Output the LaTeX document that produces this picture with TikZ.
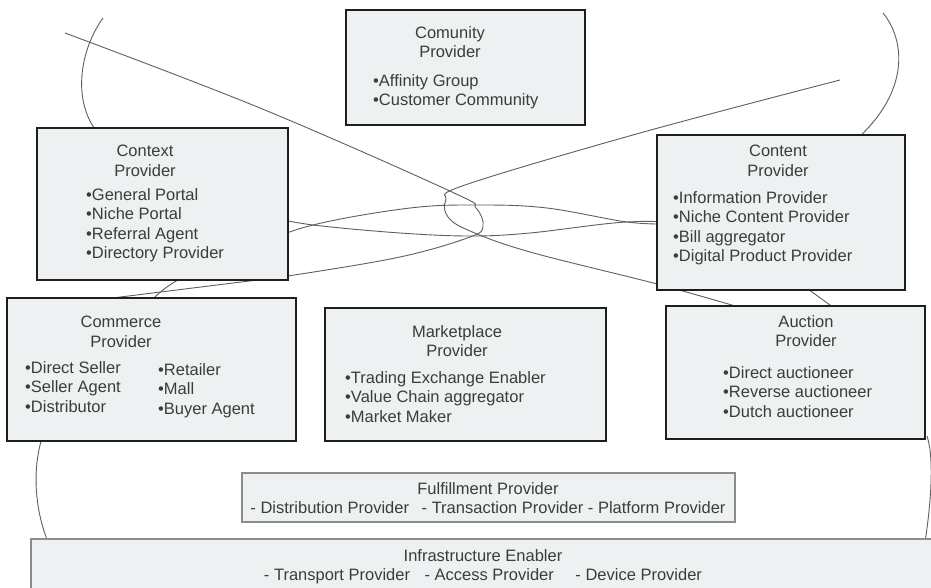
\documentclass[tikz,border=0pt]{standalone}
\usepackage{fontspec}
\setmainfont{Liberation Sans}
\usetikzlibrary{positioning,backgrounds}
\definecolor{boxfill}{RGB}{238,241,242}
\definecolor{boxline}{RGB}{30,30,30}
\definecolor{thinline}{RGB}{140,140,140}
\definecolor{textgray}{RGB}{60,60,60}
\definecolor{curvegray}{RGB}{95,95,95}

\begin{document}
\begin{tikzpicture}[
  x=1pt, y=-1pt,
  every node/.style={
    inner sep=0pt,
    text=textgray,
    font=\fontsize{16.5}{19.5}\selectfont
  },
  provider/.style={rectangle, draw=boxline, line width=2.4pt, fill=boxfill},
  layerbox/.style={rectangle, draw=thinline, line width=1.1pt, fill=boxfill},
  title/.style={align=center, anchor=north},
  items/.style={align=left, anchor=north west},
  curve/.style={draw=curvegray, line width=0.9pt}
]

\useasboundingbox (0,0) rectangle (931,588);

\node[provider, minimum width=239pt, minimum height=115pt] (comunity) at (465.5,67.5) {};
\node[provider, minimum width=251pt, minimum height=152pt] (context)  at (162.5,204)  {};
\node[provider, minimum width=248pt, minimum height=155pt] (content)  at (781,212.5)  {};
\node[provider, minimum width=289pt, minimum height=143pt] (commerce) at (151.5,369.5) {};
\node[provider, minimum width=281pt, minimum height=133pt] (market)   at (465.5,374.5) {};
\node[provider, minimum width=259pt, minimum height=133pt] (auction)  at (795.5,372.5) {};
\node[layerbox, minimum width=493pt, minimum height=49pt]  (fulfil)   at (488.5,497.5) {};
\node[layerbox, minimum width=914pt, minimum height=61pt]  (infra)    at (488,569.5)   {};

\node[title] (comunitytitle) at (450,26)  {Comunity\\Provider};
\node[items] (comunitylist)  at (373,74)  {•Affinity Group\\•Customer Community};

\node[title] (contexttitle) at (145,145) {Context\\Provider};
\node[items] (contextlist)  at (86,188)  {•General Portal\\•Niche Portal\\•Referral Agent\\•Directory Provider};

\node[title] (contenttitle) at (778,145) {Content\\Provider};
\node[items] (contentlist)  at (673,191) {•Information Provider\\•Niche Content Provider\\•Bill aggregator\\•Digital Product Provider};

\node[title] (commercetitle) at (121,316) {Commerce\\Provider};
\node[items] (commercelist)  at (25,361)  {•Direct Seller\\•Seller Agent\\•Distributor};
\node[items] (commercemore)  at (158,363) {•Retailer\\•Mall\\•Buyer Agent};

\node[title] (markettitle) at (457,325) {Marketplace\\Provider};
\node[items] (marketlist)  at (345,371) {•Trading Exchange Enabler\\•Value Chain aggregator\\•Market Maker};

\node[title] (auctiontitle) at (806,315) {Auction\\Provider};
\node[items] (auctionlist)  at (723,366) {•Direct auctioneer\\•Reverse auctioneer\\•Dutch auctioneer};

\node[title] (fulfiltext) at (488,482) {Fulfillment Provider\\- Distribution Provider\hspace{8pt} - Transaction Provider - Platform Provider};
\node[title] (infratext)  at (483,549) {Infrastructure Enabler\\- Transport Provider\hspace{10pt} - Access Provider\hspace{17pt} - Device Provider};

\begin{scope}[on background layer]
  \fill[white] (0,0) rectangle (931,588);
  \draw[curve] plot[smooth, tension=0.6] coordinates {(65,33) (260,108) (452,192) (476,208) (483,226) (470,237) (400,257) (288,276) (233,283) (80,302)};
  \draw[curve] plot[smooth, tension=0.6] coordinates {(840,80) (640,133) (465,185) (446,200) (448,217) (470,231) (530,252) (657,284) (742,308)};
  \draw[curve] plot[smooth, tension=0.6] coordinates {(270,217) (313,225) (400,233) (470,236) (530,233) (627,222) (680,226) (760,255) (812,292) (834,308)};
  \draw[curve] plot[smooth, tension=0.6] coordinates {(150,302) (178,280) (250,248) (313,225) (410,208) (480,205) (547,208) (627,222) (670,224)};
  \draw[curve] (103,18) .. controls (80,50) and (72,100) .. (97,132);
  \draw[curve] (883,13) .. controls (905,40) and (910,90) .. (858,138);
  \draw[curve] (42,438) .. controls (32,470) and (35,510) .. (48,542);
  \draw[curve] (927,436) .. controls (935,460) and (930,510) .. (925,542);
\end{scope}

\end{tikzpicture}
\end{document}
